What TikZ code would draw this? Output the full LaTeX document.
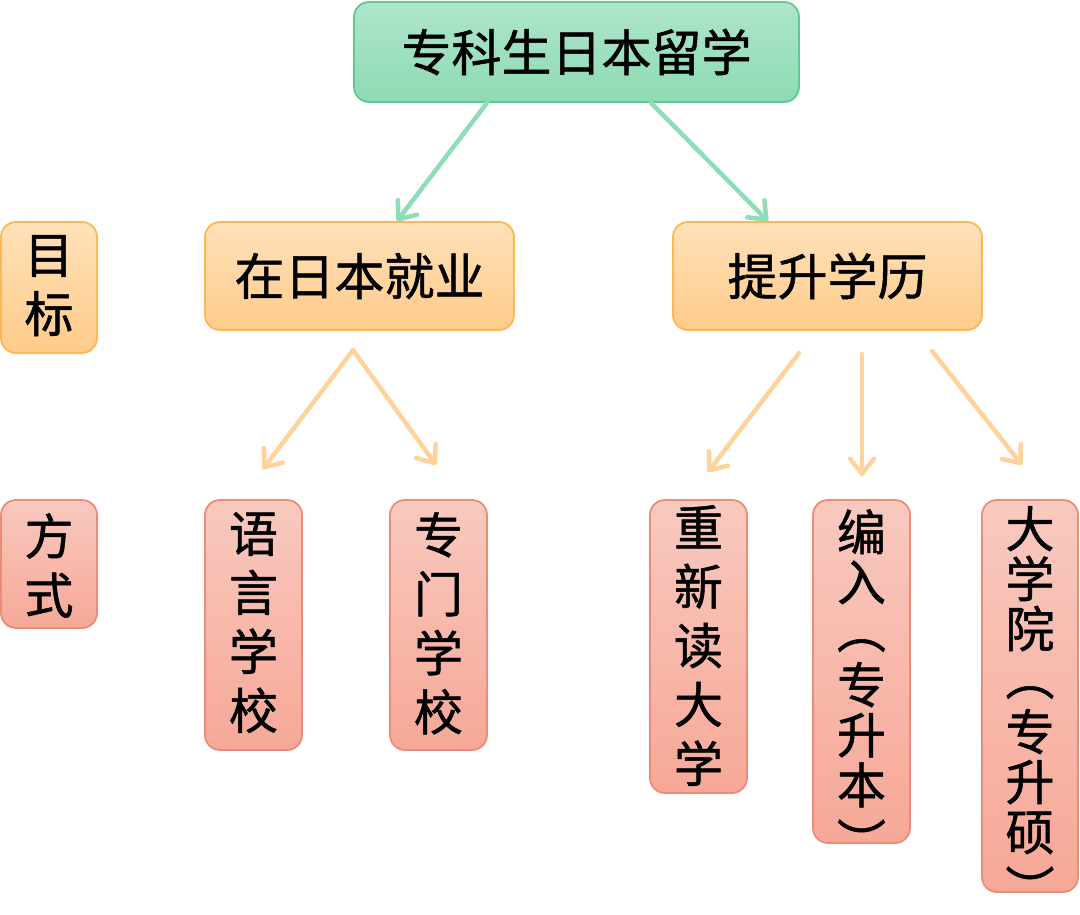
\documentclass[tikz,border=0pt]{standalone}
\usepackage{fontspec}
\setmainfont{Noto Sans CJK SC}[FakeBold=1]
\usetikzlibrary{arrows.meta}
\definecolor{gtop}{HTML}{AEE6CC}
\definecolor{gbot}{HTML}{8DDAB3}
\definecolor{gline}{HTML}{5FC993}
\definecolor{otop}{HTML}{FFE1B9}
\definecolor{obot}{HTML}{FFCB8A}
\definecolor{oline}{HTML}{FDB757}
\definecolor{rtop}{HTML}{F9C9BF}
\definecolor{rbot}{HTML}{F6A897}
\definecolor{rline}{HTML}{EE8B78}
\definecolor{garrow}{HTML}{8FDDB6}
\definecolor{oarrow}{HTML}{FFD39B}
\newcommand\mystrut{\vphantom{国}}
\newcommand\vopen{\raisebox{5pt}{\rotatebox[origin=c]{-90}{（}}}
\newcommand\vclose{\raisebox{-7pt}{\rotatebox[origin=c]{-90}{）}}}
\tikzset{
  x=1pt, y=-1pt,
  boxbase/.style={rounded corners=15pt, line width=1.8pt, inner sep=0pt, align=center},
  greenbox/.style={boxbase, draw=gline, top color=gtop, bottom color=gbot},
  orangebox/.style={boxbase, draw=oline, top color=otop, bottom color=obot},
  redbox/.style={boxbase, draw=rline, top color=rtop, bottom color=rbot},
  garr/.style={draw=garrow, line width=4.5pt, line cap=round, -{Straight Barb[length=15pt,width=24pt,line cap=round,line join=round]}},
  oarr/.style={draw=oarrow, line width=4.5pt, line cap=round, -{Straight Barb[length=15pt,width=24pt,line cap=round,line join=round]}},
  htext/.style={font=\fontsize{50}{60}\selectfont},
  vtextA/.style={inner sep=0pt, anchor=north, align=center, font=\fontsize{49}{59}\selectfont},
  vtextB/.style={inner sep=0pt, anchor=north, align=center, font=\fontsize{49}{50}\selectfont},
}
\begin{document}
\begin{tikzpicture}
\useasboundingbox (0,0) rectangle (1080,914);
% top
\node[greenbox, htext, minimum width=445pt, minimum height=100pt] (top) at (576.5,52) {专科生日本留学};
% goals
\node[orangebox, htext, minimum width=309pt, minimum height=108pt] (work) at (359.5,276) {在日本就业};
\node[orangebox, htext, minimum width=309pt, minimum height=108pt] (edu) at (827.5,276) {提升学历};
\node[orangebox, minimum width=96pt, minimum height=131pt] (goal) at (49,287.5) {};
\node[vtextA] (goalt) at (49,234) {\mystrut{}目\\标};
% methods
\node[redbox, minimum width=96pt, minimum height=128pt] (way) at (49,564) {};
\node[vtextA] (wayt) at (49,513) {\mystrut{}方\\式};
\node[redbox, minimum width=97pt, minimum height=250pt] (lang) at (253.5,625) {};
\node[vtextA] (langt) at (253.5,512) {\mystrut{}语\\言\\学\\校};
\node[redbox, minimum width=97pt, minimum height=250pt] (voc) at (438.5,625) {};
\node[vtextA] (voct) at (438.5,512) {\mystrut{}专\\门\\学\\校};
\node[redbox, minimum width=97pt, minimum height=293pt] (reuni) at (698.5,646.5) {};
\node[vtextA] (reunit) at (698.5,505) {\mystrut{}重\\新\\读\\大\\学};
\node[redbox, minimum width=97pt, minimum height=343pt] (trans) at (861.5,671.5) {};
\node[vtextB] (transt) at (861.5,509) {\mystrut{}编\\入\\\vopen\\专\\升\\本\\\vclose};
\node[redbox, minimum width=96pt, minimum height=392pt] (grad) at (1030,696) {};
\node[vtextB] (gradt) at (1030,506) {\mystrut{}大\\学\\院\\\vopen\\专\\升\\硕\\\vclose};
% free arrow ends
\coordinate (w0) at (353,350);
\coordinate (w1) at (263,469);
\coordinate (w2) at (436,465);
\coordinate (e0a) at (799,353);
\coordinate (e1) at (708,472);
\coordinate (e0b) at (862,354);
\coordinate (e2) at (862,476);
\coordinate (e0c) at (932,351);
\coordinate (e3) at (1022,465);
% arrows
\draw[garr] (top.south -| 487,0) -- (work.north -| 397,0);
\draw[garr] (top.south -| 651,0) -- (edu.north -| 768,0);
\draw[oarr] (w0) -- (w1);
\draw[oarr] (w0) -- (w2);
\draw[oarr] (e0a) -- (e1);
\draw[oarr] (e0b) -- (e2);
\draw[oarr] (e0c) -- (e3);
\end{tikzpicture}
\end{document}
